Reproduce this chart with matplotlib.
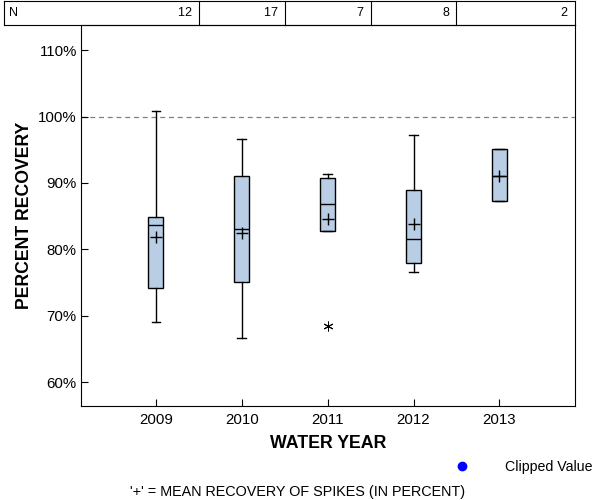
import matplotlib
matplotlib.use("Agg")
import matplotlib.pyplot as plt
from matplotlib.ticker import FuncFormatter

plt.rcParams['font.family'] = ['Liberation Sans', 'DejaVu Sans']

years = [2009, 2010, 2011, 2012, 2013]
counts = [12, 17, 7, 8, 2]
whislo = [69.0, 66.7, 82.7, 76.6, 87.3]
q1 = [74.2, 75.1, 82.7, 78.0, 87.3]
med = [83.6, 83.0, 86.9, 81.6, 91.1]
q3 = [84.9, 91.0, 90.8, 88.9, 95.1]
whishi = [100.9, 96.7, 91.3, 97.3, 95.1]
means = [81.9, 82.5, 84.6, 83.8, 91.1]
outliers = [[], [], [68.5], [], []]

fig = plt.figure(figsize=(6, 5), dpi=100)
ax = fig.add_axes([81 / 600, 1 - 406 / 500, (575 - 81) / 600, (406 - 25) / 500])

stats = []
for i in range(len(years)):
    stats.append(dict(whislo=whislo[i], q1=q1[i], med=med[i], q3=q3[i],
                      whishi=whishi[i], mean=means[i], fliers=outliers[i]))

ax.bxp(stats, positions=years, widths=0.175, patch_artist=True, showmeans=True,
       boxprops=dict(facecolor='#b9cde5', edgecolor='black', linewidth=1),
       medianprops=dict(color='black', linewidth=1),
       whiskerprops=dict(color='black', linewidth=1),
       capprops=dict(color='black', linewidth=1),
       capwidths=0.1,
       meanprops=dict(marker='+', markeredgecolor='black', markersize=9, markeredgewidth=1),
       flierprops=dict(marker=(6, 2, 0), markeredgecolor='black', markersize=7, markeredgewidth=0.7))

ax.axhline(100, color='gray', linestyle=(0, (4, 3)), linewidth=0.9, zorder=0)

ax.set_xlim(2008.128, 2013.88)
ax.set_ylim(56.4, 113.8)
ax.set_yticks([60, 70, 80, 90, 100, 110])
ax.yaxis.set_major_formatter(FuncFormatter(lambda v, p: '%d%%' % v))
ax.set_xticks(years)
ax.set_xticklabels([str(y) for y in years])
ax.tick_params(labelsize=10.8, direction='in', length=5, width=0.8)
ax.tick_params(axis='x', pad=5)
ax.tick_params(axis='y', pad=3)
for s in ax.spines.values():
    s.set_linewidth(0.8)

ax.set_xlabel('WATER YEAR', fontsize=12.8, fontweight='bold', labelpad=6)
ax.set_ylabel('PERCENT RECOVERY', fontsize=12.7, fontweight='bold', labelpad=4)

# N table along the top
tbl_top = 1 - 1 / 500
tbl_bot = 1 - 25 / 500
trans = matplotlib.transforms.blended_transform_factory(ax.transData, fig.transFigure)
x_left = 4 / 600
x_right = 575 / 600
fig.add_artist(plt.Line2D([x_left, x_right], [tbl_top, tbl_top], color='black', lw=0.8))
fig.add_artist(plt.Line2D([x_left, x_right], [tbl_bot, tbl_bot], color='black', lw=0.8))
fig.add_artist(plt.Line2D([x_left, x_left], [tbl_bot, tbl_top], color='black', lw=0.8))
fig.add_artist(plt.Line2D([x_right, x_right], [tbl_bot, tbl_top], color='black', lw=0.8))
for y in years[:-1]:
    fig.add_artist(plt.Line2D([y + 0.5, y + 0.5], [tbl_bot, tbl_top], color='black',
                              lw=0.8, transform=trans))
fig.text(x_left + 5 / 600, (tbl_top + tbl_bot) / 2, 'N', fontsize=9, va='center', ha='left')
for i, y in enumerate(years):
    if i < len(years) - 1:
        fig.text(y + 0.5, (tbl_top + tbl_bot) / 2, str(counts[i]) + '  ', fontsize=9,
                 va='center', ha='right', transform=trans)
    else:
        fig.text(x_right - 8 / 600, (tbl_top + tbl_bot) / 2, str(counts[i]), fontsize=9,
                 va='center', ha='right')

# legend and footnote
fig.add_artist(plt.Line2D([462 / 600], [1 - 466 / 500], marker='o', color='blue',
                          markersize=6, linestyle='none'))
fig.text(505 / 600, 1 - 467 / 500, 'Clipped Value', fontsize=10.2, va='center', ha='left')
fig.text(298 / 600, 1 - 492 / 500, "'+' = MEAN RECOVERY OF SPIKES (IN PERCENT)",
         fontsize=10.4, va='center', ha='center')

fig.savefig('out.png', dpi=100)
